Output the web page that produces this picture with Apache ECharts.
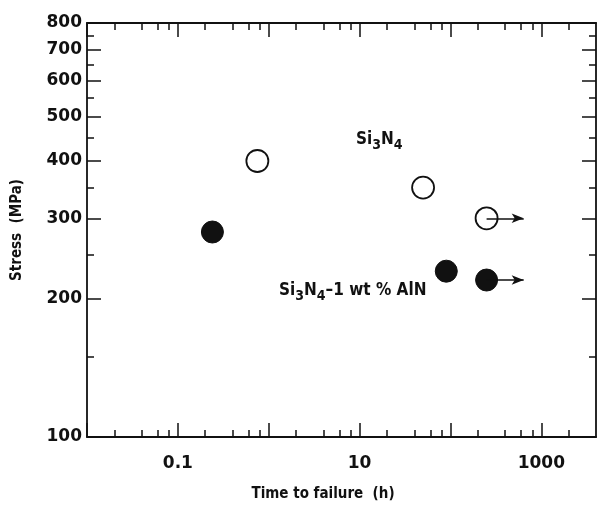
<!DOCTYPE html>
<html><head><meta charset="utf-8">
<script src="https://cdn.jsdelivr.net/npm/echarts@6/dist/echarts.min.js"></script>
<style>html,body{margin:0;padding:0;background:#fff}#c{width:599px;height:507px}</style>
</head><body><div id="c"></div>
<script>
// Data
const si3n4 = [[0.75, 400], [50, 350], [250, 300]];
const si3n4AlN = [[0.24, 280], [90, 230], [250, 220]];
// run-outs (arrows): from the point to the arrow tip
const runoutOpen = [[250, 300], [640, 300]];
const runoutFilled = [[250, 220], [640, 220]];

const xMajorTicks = [0.01, 0.1, 1, 10, 100, 1000];
const xMinorTicks = [0.02, 0.04, 0.06, 0.08, 0.2, 0.4, 0.6, 0.8, 2, 4, 6, 8, 20, 40, 60, 80, 200, 400, 600, 800, 2000];
const xLabels = [0.1, 10, 1000];
const yMajorTicks = [100, 200, 300, 400, 500, 600, 700, 800];
const yMinorTicks = [150, 250, 350, 450, 550, 650, 750];
const yLabels = [100, 200, 300, 400, 500, 600, 700, 800];

const FONT = 'DejaVu Sans';
const COND = 'DejaVu Sans Condensed';
const BLACK = '#111';

function xAx(pos, ticks, len, showLine, labels) {
  return {
    type: 'log', logBase: 10, min: 0.01, max: 4000, position: pos,
    axisLine: { show: showLine, lineStyle: { color: BLACK, width: 1.8 } },
    axisTick: { show: true, inside: true, length: len, customValues: ticks, lineStyle: { color: BLACK, width: 1.5 } },
    axisLabel: labels ? { show: true, customValues: labels, formatter: v => String(v), margin: 18,
      fontFamily: FONT, fontWeight: 'bold', fontSize: 17, color: BLACK } : { show: false },
    splitLine: { show: false }, minorTick: { show: false }, minorSplitLine: { show: false }
  };
}
function yAx(pos, ticks, len, showLine, labels) {
  return {
    type: 'log', logBase: 10, min: 100, max: 800, position: pos,
    axisLine: { show: showLine, lineStyle: { color: BLACK, width: 1.8 } },
    axisTick: { show: true, inside: true, length: len, customValues: ticks, lineStyle: { color: BLACK, width: 1.5 } },
    axisLabel: labels ? { show: true, customValues: labels, formatter: v => String(v), margin: 5,
      fontFamily: FONT, fontWeight: 'bold', fontSize: 17, color: BLACK } : { show: false },
    splitLine: { show: false }, minorTick: { show: false }, minorSplitLine: { show: false }
  };
}

const xAxes = [
  Object.assign(xAx('bottom', xMajorTicks, 14, true, xLabels), {
    name: 'Time to failure  (h)', nameLocation: 'middle', nameGap: 50,
    nameTextStyle: { fontFamily: COND, fontWeight: 'bold', fontSize: 15, color: BLACK, padding: [0, 37, 0, 0] }
  }),
  xAx('bottom', xMinorTicks, 7, false, null),
  xAx('top', xMajorTicks, 14, true, null),
  xAx('top', xMinorTicks, 7, false, null)
];
const yAxes = [
  Object.assign(yAx('left', yMajorTicks, 14, true, yLabels), {
    name: 'Stress  (MPa)', nameLocation: 'middle', nameGap: 62,
    nameTextStyle: { fontFamily: COND, fontWeight: 'bold', fontSize: 15, color: BLACK }
  }),
  yAx('left', yMinorTicks, 7, false, null),
  yAx('right', yMajorTicks, 14, true, null),
  yAx('right', yMinorTicks, 7, false, null)
];

const arrowLine = (pts) => ({
  silent: true, symbol: ['none', 'arrow'], symbolSize: [7, 12],
  label: { show: false },
  lineStyle: { color: BLACK, width: 1.5, type: 'solid', opacity: 1 },
  itemStyle: { color: BLACK },
  emphasis: { disabled: true },
  data: [[{ coord: pts[0] }, { coord: pts[1] }]]
});

const rich = {
  a: { fontFamily: COND, fontWeight: 'bold', fontSize: 17, lineHeight: 26, fill: BLACK, color: BLACK },
  s: { fontFamily: COND, fontWeight: 'bold', fontSize: 14, lineHeight: 14, verticalAlign: 'bottom', fill: BLACK, color: BLACK }
};

const chart = echarts.init(document.getElementById('c'), null, { renderer: 'canvas' });
chart.setOption({
  animation: false,
  backgroundColor: '#fff',
  grid: { left: 87, right: 3, top: 23, bottom: 70, containLabel: false },
  xAxis: xAxes,
  yAxis: yAxes,
  series: [
    {
      name: 'Si3N4', type: 'scatter', xAxisIndex: 0, yAxisIndex: 0,
      data: si3n4, symbol: 'circle', symbolSize: 22, z: 3,
      itemStyle: { color: 'rgba(255,255,255,0)', borderColor: BLACK, borderWidth: 1.8, opacity: 1 },
      emphasis: { disabled: true },
      markLine: arrowLine(runoutOpen)
    },
    {
      name: 'Si3N4-1 wt % AlN', type: 'scatter', xAxisIndex: 0, yAxisIndex: 0,
      data: si3n4AlN, symbol: 'circle', symbolSize: 22, z: 3,
      itemStyle: { color: BLACK, borderColor: BLACK, borderWidth: 1, opacity: 1 },
      emphasis: { disabled: true },
      markLine: arrowLine(runoutFilled)
    }
  ],
  graphic: [
    { type: 'text', left: 356, top: 131, silent: true,
      style: { text: '{a|Si}{s|3}{a|N}{s|4}', rich: rich } },
    { type: 'text', left: 279, top: 282, silent: true,
      style: { text: '{a|Si}{s|3}{a|N}{s|4}{a|–1 wt % AlN}', rich: rich } }
  ]
});
</script>
</body></html>
